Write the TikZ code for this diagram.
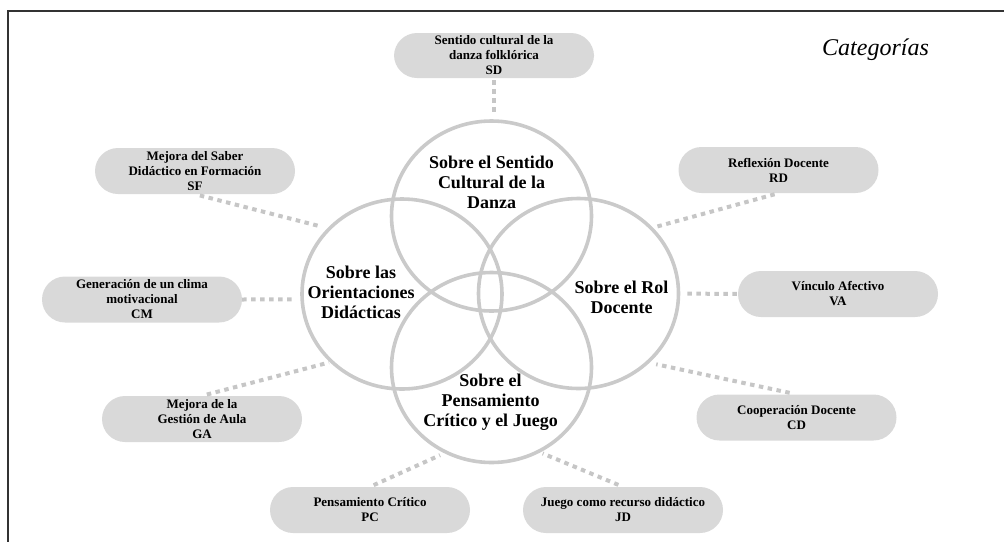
\documentclass[tikz,border=0pt]{standalone}
\usepackage{fontspec}
\setmainfont{Liberation Serif}
\usetikzlibrary{shapes.geometric}
\definecolor{pillgray}{HTML}{D9D9D9}
\definecolor{ringgray}{HTML}{CACACA}
\definecolor{dotgray}{HTML}{C6C6C6}
\definecolor{framegray}{HTML}{333333}
\tikzset{
  ring/.style={shape=ellipse, draw=ringgray, line width=3.6pt, inner sep=0pt, outer sep=0pt,
    minimum width=200pt, minimum height=190pt},
  ringlabel/.style={align=center, text=black, font=\bfseries\fontsize{18}{20}\selectfont},
  pill/.style={fill=pillgray, rounded corners=23pt, minimum width=200pt, minimum height=46pt,
    inner sep=0pt, align=center, text=black, font=\bfseries\fontsize{13}{15}\selectfont},
  conn/.style={draw=dotgray, line width=4pt, dash pattern=on 4.5pt off 4.5pt},
  framestyle/.style={draw=framegray, line width=1.2pt}
}
\begin{document}
\begin{tikzpicture}[x=1pt, y=-1pt]
\useasboundingbox (0,0) rectangle (1004,542);
\draw[framestyle] (1004,11) -- (8,11) -- (8,542);

% circles
\node[ring] (T) at (491.5,216) {};
\node[ring] (L) at (402,294) {};
\node[ring] (R) at (578.5,293.5) {};
\node[ring] (B) at (491.5,367.5) {};

\node[ringlabel] (Tl) at (491.5,182) {Sobre el Sentido\\Cultural de la\\Danza};
\node[ringlabel] (Ll) at (361,292) {Sobre las\\Orientaciones\\Didácticas};
\node[ringlabel] (Rl) at (621.5,297) {Sobre el Rol\\Docente};
\node[ringlabel] (Bl) at (490.5,402) {Sobre el\\Pensamiento\\Crítico y el Juego};

% pills
\node[pill, minimum height=45pt] (SD) at (494,55.5) {Sentido cultural de la\\danza folklórica\\SD};
\node[pill] (SF) at (195,171) {Mejora del Saber\\Didáctico en Formación\\SF};
\node[pill] (RD) at (778.5,170) {Reflexión Docente\\RD};
\node[pill] (CM) at (142,299.5) {Generación de un clima\\motivacional\\CM};
\node[pill] (VA) at (838,294) {Vínculo Afectivo\\VA};
\node[pill] (GA) at (202,419) {Mejora de la\\Gestión de Aula\\GA};
\node[pill] (CD) at (796.5,417.5) {Cooperación Docente\\CD};
\node[pill] (PC) at (370,510) {Pensamiento Crítico\\PC};
\node[pill] (JD) at (623,510) {Juego como recurso didáctico\\JD};

% connectors
\draw[conn, shorten <=2pt, shorten >=6pt] (SD.south) -- (SD.south |- T.north);
\draw[conn, shorten <=5pt, shorten >=9pt] (SF.south) -- (L.138);
\draw[conn, shorten <=0pt, shorten >=9pt] (CM.east) -- (L.183.5);
\draw[conn, shorten <=5pt, shorten >=3pt] (GA.north) -- (L.224);
\draw[conn, shorten <=4pt, shorten >=7pt] (PC.north) -- (B.242);
\draw[conn, shorten <=5pt, shorten >=5pt] (JD.north) -- (B.299.5);
\draw[conn, shorten <=7pt, shorten >=9pt] (CD.north) -- (R.315.7);
\draw[conn, shorten <=1pt, shorten >=5pt] (VA.west) -- (R.0);
\draw[conn, shorten <=4pt, shorten >=5pt] (RD.south) -- (R.42.8);

% title
\node[anchor=base west, inner sep=0pt, font=\itshape\fontsize{24}{28}\selectfont] (cat) at (822,55) {Categorías};
\end{tikzpicture}
\end{document}
